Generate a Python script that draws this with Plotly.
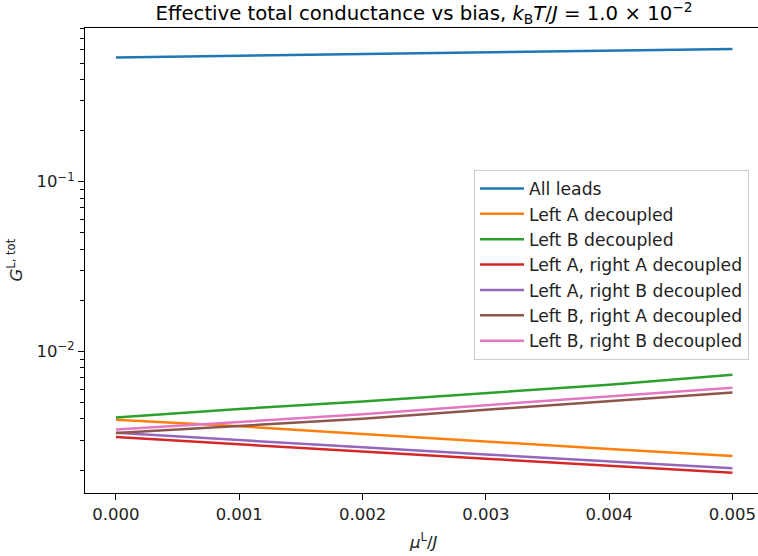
import plotly.graph_objects as go

mu = [0.0, 0.001, 0.002, 0.003, 0.004, 0.005]

series_names = [
    "All leads",
    "Left A decoupled",
    "Left B decoupled",
    "Left A, right A decoupled",
    "Left A, right B decoupled",
    "Left B, right A decoupled",
    "Left B, right B decoupled",
]
all_leads = [0.540, 0.553, 0.566, 0.578, 0.591, 0.605]
left_a = [0.00396, 0.00362, 0.00326, 0.00293, 0.00266, 0.00242]
left_b = [0.00408, 0.00458, 0.00507, 0.00569, 0.00637, 0.00729]
la_ra = [0.00313, 0.00285, 0.00257, 0.00233, 0.00212, 0.00193]
la_rb = [0.00332, 0.00299, 0.00272, 0.00247, 0.00225, 0.00205]
lb_ra = [0.00330, 0.00363, 0.00401, 0.00453, 0.00510, 0.00573]
lb_rb = [0.00346, 0.00384, 0.00426, 0.00482, 0.00542, 0.00611]
series_values = [all_leads, left_a, left_b, la_ra, la_rb, lb_ra, lb_rb]
colors = ["#1f77b4", "#ff7f0e", "#2ca02c", "#d62728", "#9467bd", "#8c564b", "#e377c2"]

x_ticks = [0.0, 0.001, 0.002, 0.003, 0.004, 0.005]
y_major = [0.01, 0.1]
y_major_text = ["10<sup>−2</sup>", "10<sup>−1</sup>"]
y_minor = [m * d for d in (0.001, 0.01, 0.1) for m in range(2, 10)]

FONT = "DejaVu Sans"

fig = go.Figure()
for i, (name, vals, c) in enumerate(zip(series_names, series_values, colors)):
    fig.add_trace(go.Scatter(x=mu, y=vals, mode="lines", name=name,
                             line=dict(color=c, width=2.5),
                             legendgroup=f"g{i}"))

fig.update_layout(
    width=758, height=556,
    margin=dict(l=85, r=0, t=28, b=63),
    plot_bgcolor="white", paper_bgcolor="white",
    font=dict(family=FONT, size=16.5, color="black"),
    title=dict(
        text="Effective total conductance vs bias, <i>k</i><sub>B</sub><i>T</i>/<i>J</i> = 1.0 × 10<sup>−2</sup>",
        x=(85 + 763) / 2 / 758, xanchor="center",
        y=1 - 13 / 556, yanchor="middle",
        font=dict(family=FONT, size=19.7, color="black"),
    ),
    showlegend=True,
    legend=dict(
        x=0.9866, xanchor="right", y=0.695, yanchor="top",
        bgcolor="rgba(255,255,255,0.8)", bordercolor="#cccccc", borderwidth=1,
        font=dict(family=FONT, size=17.2, color="#222222"),
        tracegroupgap=0, itemwidth=44,
    ),
)

fig.update_xaxes(
    range=[-0.000251, 0.005207],
    showline=True, linecolor="black", linewidth=1.3, mirror=True,
    showgrid=False, zeroline=False,
    ticks="outside", ticklen=6, tickwidth=1.3, tickcolor="black",
    tickvals=x_ticks, tickformat=".3f",
    tickfont=dict(family=FONT, size=16.5, color="#222222"),
)
fig.update_yaxes(
    type="log", range=[-2.8344, -0.0943],
    showline=True, linecolor="black", linewidth=1.3, mirror=False,
    showgrid=False, zeroline=False,
    ticks="outside", ticklen=6, tickwidth=1.3, tickcolor="black",
    tickvals=y_major, ticktext=y_major_text,
    tickfont=dict(family=FONT, size=16.5, color="#222222"),
    minor=dict(tickvals=y_minor, ticks="outside", ticklen=3.5, tickwidth=1.0,
               tickcolor="black", showgrid=False),
)

fig.add_annotation(text="<i>μ</i><sup>L</sup>/<i>J</i>", xref="paper", yref="paper",
                   x=(423 - 85) / 673, y=-(541.7 - 493.3) / 465,
                   xanchor="center", yanchor="middle", showarrow=False,
                   font=dict(family=FONT, size=16.5, color="#222222"))
fig.add_annotation(text="<i>G</i><sup>L, tot</sup>", xref="paper", yref="paper",
                   x=-(85 - 15) / 673, y=0.5, textangle=-90,
                   xanchor="center", yanchor="middle", showarrow=False,
                   font=dict(family=FONT, size=16.5, color="#222222"))

fig.write_html("out.html")
